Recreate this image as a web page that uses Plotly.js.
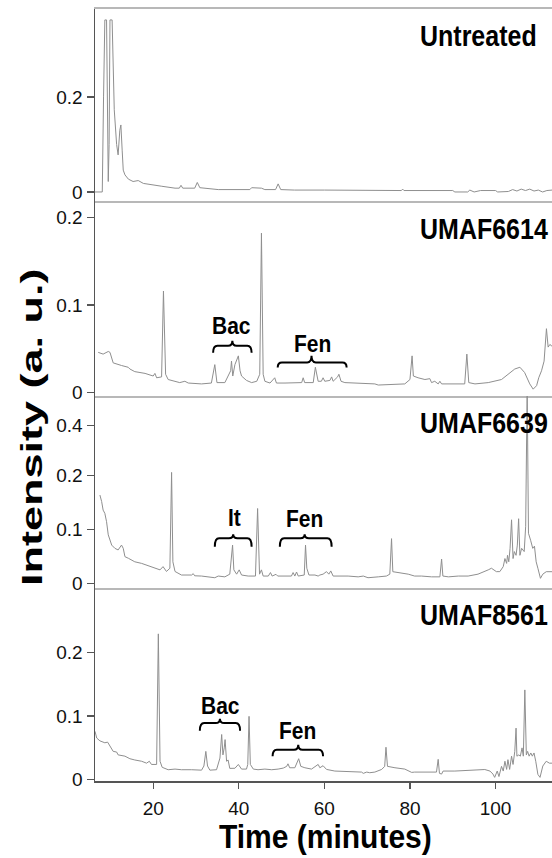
<!DOCTYPE html>
<html>
<head>
<meta charset="utf-8">
<script src="https://cdn.plot.ly/plotly-3.0.1.min.js"></script>
<style>html,body{margin:0;padding:0;background:#fff;}#chart{width:552px;height:858px;}</style>
</head>
<body>
<div id="chart"></div>
<script>
// ---- Data (retention time in minutes, intensity in a.u.) ----
const untreatedTime = [6.4,8.1,8.4,8.7,9.1,9.35,9.5,9.7,9.9,10.4,10.9,11.45,11.8,12.2,12.45,12.75,13.0,13.4,14.2,15.3,16.5,17.7,19.6,22.0,25.1,26.1,26.5,26.9,29.7,30.3,30.9,35.2,42.6,43.0,45.3,46.1,48.6,49.2,49.8,53,60,70,78.0,78.3,78.6,90,90.5,93.5,94,95,96.5,100,100.5,103,104,105,106,107,108,109,110,111,112,113.2];
const untreatedInt  = [0,0,0.2,0.362,0.362,0.137,0.022,0.10,0.362,0.362,0.173,0.10,0.078,0.13,0.141,0.088,0.046,0.036,0.027,0.022,0.024,0.018,0.015,0.012,0.008,0.008,0.014,0.008,0.008,0.02,0.009,0.005,0.005,0.009,0.008,0.005,0.005,0.017,0.005,0.004,0.004,0.003,0.003,0.006,0.003,0.003,0.0,0.0,0.004,0.0,0.003,0.003,0.0,0.001,0.005,0.002,0.006,0.003,0.006,0.002,0.004,0.0,0.003,0.004];

const umaf6614Time = [7.15,8.3,9.5,9.9,10.65,11.45,12.6,14.15,14.55,15.7,18.1,20.0,20.4,20.8,21.96,22.4,22.9,23.5,25.1,26.2,27.4,28.2,31.3,33.6,34.4,34.9,36.75,38.1,38.3,38.6,39.1,39.5,39.9,40.3,40.65,41.8,43.0,44.2,44.9,45.3,45.7,46.1,47.3,48.4,48.8,50.8,54.7,55.05,55.4,57.4,57.9,58.55,59.3,59.7,60.1,61.3,61.7,62.05,63.1,63.4,63.9,64.8,71.8,72.6,74.1,76.5,78.8,80.0,80.5,80.8,81.9,83.5,84.65,85.05,85.8,86.6,87.0,87.4,92.8,93.3,93.75,95.2,98.3,101.4,102.9,104.5,105.7,106.8,108.0,108.8,109.6,110.1,110.75,111.35,111.9,112.3,112.7,113.2];
const umaf6614Int  = [0.046,0.044,0.047,0.046,0.034,0.0325,0.031,0.029,0.027,0.024,0.022,0.019,0.022,0.017,0.018,0.116,0.021,0.015,0.013,0.0115,0.013,0.011,0.010,0.011,0.032,0.0115,0.0115,0.025,0.036,0.019,0.032,0.038,0.042,0.025,0.019,0.014,0.0115,0.013,0.021,0.182,0.021,0.013,0.011,0.017,0.011,0.011,0.0115,0.017,0.0115,0.0115,0.029,0.013,0.013,0.017,0.013,0.014,0.018,0.013,0.018,0.021,0.013,0.0115,0.010,0.0087,0.009,0.0087,0.010,0.015,0.042,0.019,0.017,0.015,0.016,0.0115,0.013,0.010,0.013,0.010,0.010,0.044,0.0115,0.010,0.0115,0.015,0.021,0.027,0.029,0.023,0.010,0.004,0.008,0.017,0.025,0.036,0.073,0.052,0.055,0.053];

const umaf6639Time = [7.55,7.95,8.3,8.7,9.1,9.5,10.3,11.05,11.8,12.6,13.0,13.4,14.2,15.7,17.3,18.8,20.4,21.6,22.3,23.1,23.9,24.3,24.6,25.1,26.6,29.0,29.35,29.7,31.3,34.4,35.2,36.75,37.9,38.4,38.55,38.85,39.5,40.1,40.65,42.2,43.9,44.4,44.85,45.3,45.7,46.9,47.4,47.8,48.7,49.1,52.3,52.7,53.1,53.5,53.9,55.3,55.6,55.9,56.4,57.8,58.55,58.95,59.7,60.5,61.05,61.5,62.05,65.55,67.9,69.1,70.2,72.6,74.5,75.3,75.7,76.0,77.25,79.6,81.1,82.7,85.05,87.0,87.4,87.7,89.0,91.3,93.6,95.9,98.3,99.05,100.2,101.0,101.8,102.2,102.6,102.8,103.1,103.4,103.75,104.1,104.4,104.8,105.1,105.4,105.7,106.1,106.7,107.05,107.4,107.7,108.2,108.7,109.1,109.5,109.9,110.5,111.05,111.85,113.2];
const umaf6639Int  = [0.164,0.152,0.136,0.130,0.1145,0.090,0.071,0.065,0.062,0.071,0.065,0.0495,0.0465,0.040,0.037,0.033,0.028,0.025,0.031,0.022,0.028,0.213,0.04,0.022,0.0154,0.0154,0.018,0.014,0.0135,0.0104,0.0135,0.012,0.017,0.053,0.071,0.025,0.017,0.025,0.0154,0.0135,0.0135,0.139,0.017,0.025,0.0135,0.0135,0.02,0.0135,0.0167,0.0135,0.0135,0.02,0.0135,0.021,0.0135,0.0154,0.071,0.028,0.0154,0.0154,0.0135,0.0154,0.017,0.0217,0.017,0.023,0.0135,0.0135,0.012,0.0135,0.0104,0.012,0.0135,0.017,0.083,0.0216,0.02,0.017,0.0135,0.0135,0.012,0.012,0.045,0.0135,0.012,0.0135,0.0135,0.017,0.025,0.028,0.0217,0.0217,0.031,0.046,0.037,0.052,0.04,0.065,0.118,0.046,0.059,0.052,0.071,0.12,0.052,0.065,0.059,0.106,0.56,0.093,0.08,0.065,0.069,0.040,0.028,0.0093,0.017,0.0216,0.0216];

const umaf8561Time = [6.4,6.8,7.55,8.7,9.35,9.9,10.65,11.45,11.8,13.4,14.55,15.7,17.3,18.45,19.1,19.6,20.8,21.2,21.6,22.1,23.5,25.1,26.6,29.0,31.3,31.85,32.3,32.7,33.25,34.8,35.6,36.0,36.3,36.6,36.8,37.15,37.5,37.9,39.1,39.9,40.65,41.8,42.1,42.4,42.7,43.4,44.5,46.1,47.7,49.2,50.4,51.2,51.5,51.9,53.1,54.0,54.5,55.45,57.0,58.55,58.95,59.7,60.5,62.45,68.7,69.1,69.9,70.6,71.8,73.4,74.1,74.4,74.75,76.5,78.8,80.4,81.1,86.2,86.6,86.9,87.4,87.75,90.5,97.5,98.7,99.4,99.8,100.4,100.8,101.4,101.8,102.2,102.6,102.9,103.3,103.75,104.1,104.5,104.8,105.0,105.45,105.8,106.2,106.5,106.85,107.2,107.5,107.85,108.25,108.6,109.0,109.4,109.9,110.4,111.05,111.85,112.6,113.2];
const umaf8561Int  = [0.076,0.0655,0.061,0.058,0.059,0.052,0.0445,0.0435,0.039,0.037,0.033,0.031,0.029,0.026,0.029,0.024,0.024,0.229,0.029,0.0195,0.0157,0.0167,0.0157,0.0157,0.015,0.0215,0.0445,0.0215,0.015,0.0157,0.034,0.071,0.039,0.05,0.063,0.029,0.031,0.0178,0.018,0.024,0.0167,0.0167,0.024,0.0995,0.024,0.0167,0.0157,0.0167,0.0157,0.0167,0.0183,0.021,0.025,0.0188,0.0188,0.033,0.021,0.0188,0.0167,0.024,0.0188,0.022,0.0162,0.0136,0.012,0.010,0.012,0.011,0.012,0.0162,0.021,0.051,0.021,0.0188,0.0167,0.0115,0.012,0.012,0.032,0.010,0.0089,0.0136,0.0136,0.016,0.0136,0.0089,0.0037,0.0136,0.005,0.021,0.0136,0.029,0.0162,0.0315,0.0162,0.037,0.024,0.0445,0.081,0.037,0.039,0.037,0.05,0.037,0.141,0.039,0.0445,0.037,0.042,0.037,0.042,0.029,0.0084,0.0037,0.0215,0.029,0.026,0.026];

const panelNames = ['Untreated','UMAF6614','UMAF6639','UMAF8561'];
const xTickVals = [20,40,60,80,100];
const xTickText = ['20','40','60','80','100'];

// ---- Styling / layout helpers ----
const FONT = 'Liberation Sans, Arial, Helvetica, sans-serif';
const LINE = {color:'#8f8f8f', width:1};
// Panel 3 axis is compressed above 0.2 (as in the original figure)
const BREAK = 0.2, SQUEEZE = 0.4646;
const t3 = v => v <= BREAK ? v : BREAK + (v - BREAK) * SQUEEZE;

const traces = [
  {x: untreatedTime, y: untreatedInt, xaxis:'x', yaxis:'y'},
  {x: umaf6614Time, y: umaf6614Int, xaxis:'x2', yaxis:'y2'},
  {x: umaf6639Time, y: umaf6639Int.map(t3), xaxis:'x3', yaxis:'y3'},
  {x: umaf8561Time, y: umaf8561Int, xaxis:'x4', yaxis:'y4'}
].map(t => Object.assign(t, {type:'scatter', mode:'lines', line:LINE, hoverinfo:'skip', showlegend:false}));

const XR = [6.4, 113.2];
function xax(anchor, bottom, extra) {
  return Object.assign({
    domain:[0,1], range:XR, anchor:anchor, showgrid:false, zeroline:false,
    showline:true, linecolor: bottom ? '#555' : '#b8b8b8', linewidth: bottom ? 1.5 : 2,
    showticklabels: bottom, ticks: bottom ? 'outside' : '', ticklen:6, tickwidth:1.2, tickcolor:'#555',
    tickvals: xTickVals, ticktext: xTickText, ticklabelstandoff: 4,
    tickfont:{family:FONT, size:19, color:'#111'}
  }, extra || {});
}
function yax(anchor, domain, range, tv, tt) {
  return {
    domain:domain, range:range, anchor:anchor, showgrid:false, zeroline:false,
    showline:true, linecolor:'#555', linewidth:1.5, ticks:'outside', ticklen:7, tickwidth:1.2, tickcolor:'#555',
    tickvals:tv, ticktext:tt, tickfont:{family:FONT, size:19, color:'#111'}
  };
}

const braces = [
  {xr:'x2', yr:'y2', x1:34.0, x2:43.0, xm:38.5, yl:0.0536, yt:0.0593, ye:0.0455, label:'Bac', lx:38.4, ly:0.0765},
  {xr:'x2', yr:'y2', x1:49.1, x2:65.2, xm:57.0, yl:0.0344, yt:0.042, ye:0.0287, label:'Fen', lx:57.2, ly:0.0558},
  {xr:'x3', yr:'y3', x1:34.4, x2:43.0, xm:38.7, yl:0.0836, yt:0.091, ye:0.068, label:'It', lx:38.9, ly:0.123},
  {xr:'x3', yr:'y3', x1:49.6, x2:61.7, xm:55.4, yl:0.0836, yt:0.091, ye:0.068, label:'Fen', lx:55.35, ly:0.121},
  {xr:'x4', yr:'y4', x1:30.9, x2:40.3, xm:35.6, yl:0.089, yt:0.0958, ye:0.077, label:'Bac', lx:35.65, ly:0.1168},
  {xr:'x4', yr:'y4', x1:47.9, x2:59.7, xm:53.9, yl:0.0471, yt:0.055, ye:0.0367, label:'Fen', lx:53.7, ly:0.0772}
];
const d = 1.0;
const shapes = braces.map(b => ({
  type:'path', xref:b.xr, yref:b.yr, line:{color:'#000', width:2},
  path: `M ${b.x1},${b.ye} Q ${b.x1},${b.yl} ${b.x1+d},${b.yl} L ${b.xm-d},${b.yl} Q ${b.xm},${b.yl} ${b.xm},${b.yt} ` +
        `Q ${b.xm},${b.yl} ${b.xm+d},${b.yl} L ${b.x2-d},${b.yl} Q ${b.x2},${b.yl} ${b.x2},${b.ye}`
}));

// stretch factor per annotation (the original lettering is tall/condensed)
const stretch = [];
const annotations = braces.map(b => {
  stretch.push(1.15);
  return {
    xref:b.xr, yref:b.yr, x:b.lx, y:b.ly, text:'<b>'+b.label+'</b>', showarrow:false,
    xanchor:'center', yanchor:'middle', font:{family:FONT, size:21, color:'#000'}
  };
});
const labelY = [0.965, 0.715, 0.4637, 0.215];
panelNames.forEach((n,i) => {
  stretch.push(1.15);
  annotations.push({
    xref:'paper', yref:'paper', x:0.707, y:labelY[i], text:'<b>'+n+'</b>', showarrow:false,
    xanchor:'left', yanchor:'middle', font:{family:FONT, size:25, color:'#000'}
  });
});
stretch.push(1.08);
annotations.push({
  xref:'paper', yref:'paper', x:0.504, y:-0.0722, text:'<b>Time (minutes)</b>', showarrow:false,
  xanchor:'center', yanchor:'middle', font:{family:FONT, size:30, color:'#000'}
});
stretch.push(1.5);
annotations.push({
  xref:'paper', yref:'paper', x:-0.14, y:0.4585, textangle:-90,
  text:'<b>Intensity (a. u.)</b>', showarrow:false,
  xanchor:'center', yanchor:'middle', font:{family:FONT, size:30, color:'#000'}
});

const layout = {
  width:552, height:858, margin:{l:95, r:0, t:9, b:77},
  paper_bgcolor:'#fff', plot_bgcolor:'#fff', showlegend:false,
  xaxis:  xax('y',  false, {mirror:true}),
  xaxis2: xax('y2', false),
  xaxis3: xax('y3', false),
  xaxis4: xax('y4', true),
  yaxis:  yax('x',  [0.7513,1],      [-0.019,0.385],  [0,0.2],           ['0','0.2']),
  yaxis2: yax('x2', [0.4987,0.7513], [-0.0038,0.2187],[0,0.1,0.2],       ['0','0.1','0.2']),
  yaxis3: yax('x3', [0.25,0.4987],   [-0.0087,0.348], [0,0.1,0.2,t3(0.4)],['0','0.1','0.2','0.4']),
  yaxis4: yax('x4', [0,0.25],        [-0.002,0.301],  [0,0.1,0.2],       ['0','0.1','0.2']),
  shapes: shapes, annotations: annotations
};

Plotly.newPlot('chart', traces, layout, {staticPlot:true, displayModeBar:false}).then(gd => {
  gd.querySelectorAll('g.annotation').forEach(g => {
    const i = +g.getAttribute('data-index');
    const s = stretch[i] || 1;
    if (s === 1) return;
    const bb = g.getBBox();
    const cx = bb.x + bb.width / 2, cy = bb.y + bb.height / 2;
    g.setAttribute('transform', `translate(${cx},${cy}) scale(1,${s}) translate(${-cx},${-cy})`);
  });
});
</script>
</body>
</html>
